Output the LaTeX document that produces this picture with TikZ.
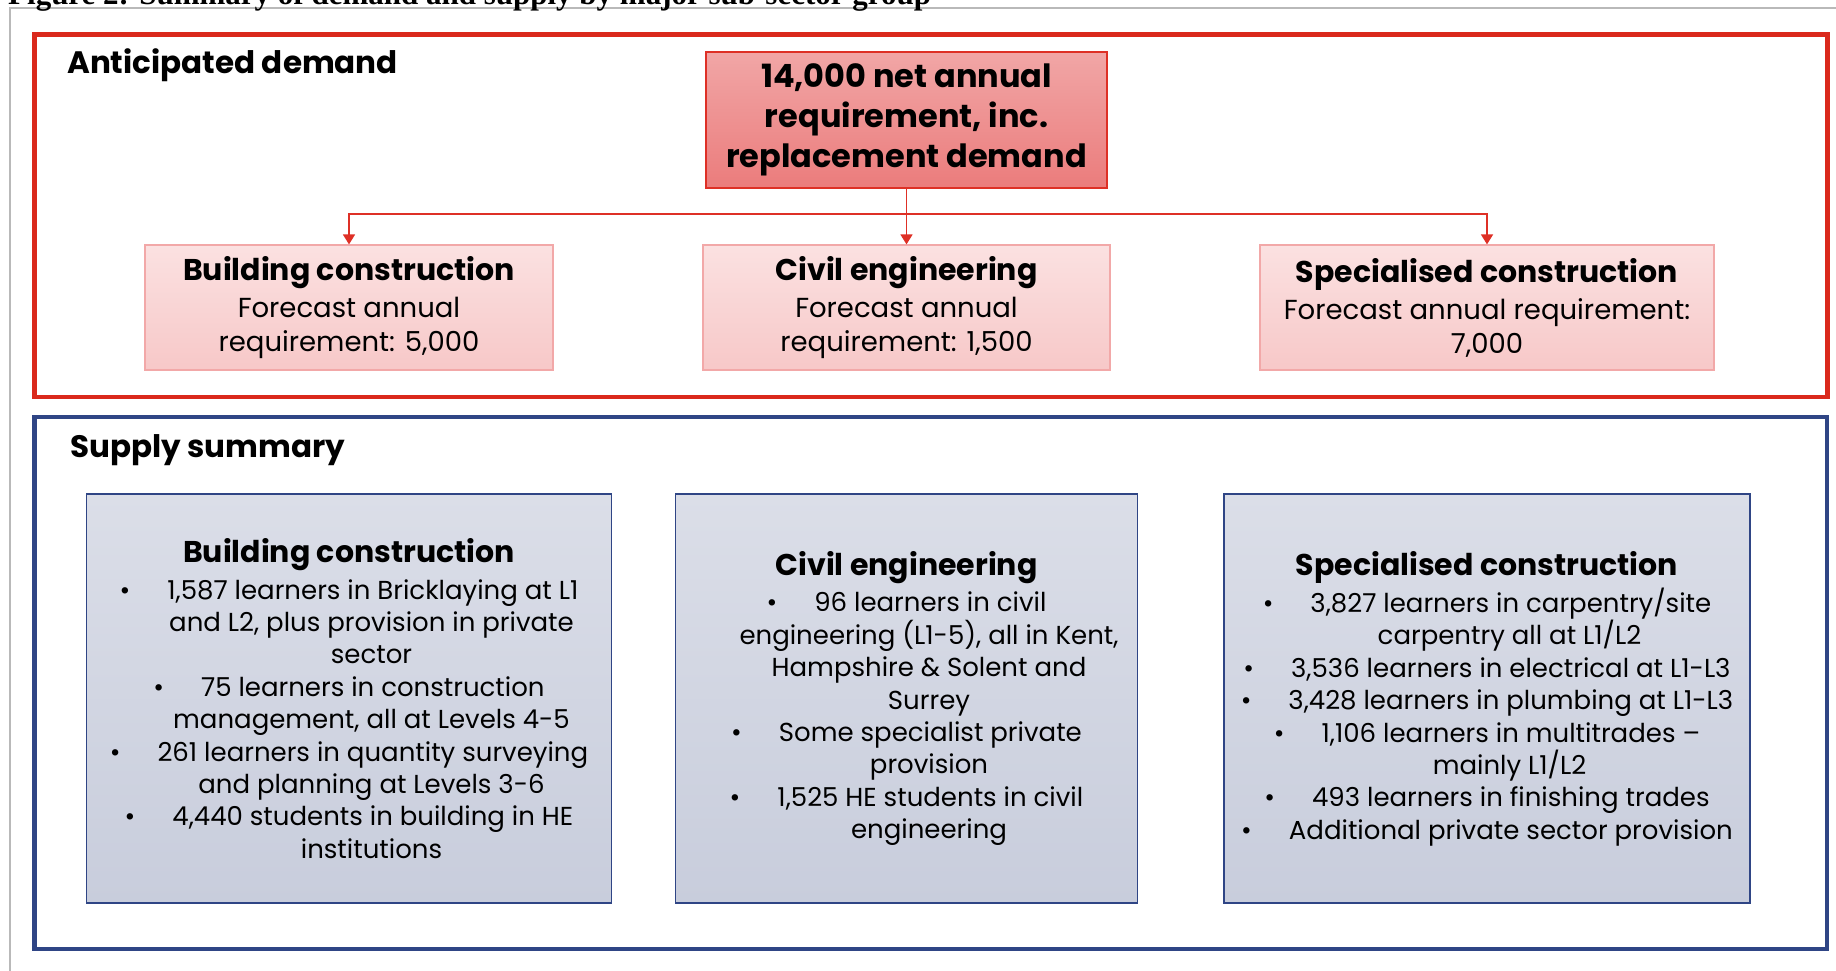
\documentclass[tikz,border=0pt]{standalone}
\usepackage{fontspec}
\setmainfont{Poppins}
\newfontfamily\capfont{Liberation Serif}
\usetikzlibrary{arrows.meta}

\definecolor{redframe}{RGB}{218,41,28}
\definecolor{redline}{RGB}{222,48,38}
\definecolor{toptop}{RGB}{241,166,166}
\definecolor{topbot}{RGB}{235,124,124}
\definecolor{pinktop}{RGB}{251,225,225}
\definecolor{pinkbot}{RGB}{247,200,200}
\definecolor{pinkline}{RGB}{242,168,168}
\definecolor{blueframe}{RGB}{47,69,133}
\definecolor{greytop}{RGB}{219,222,232}
\definecolor{greybot}{RGB}{200,205,220}
\definecolor{pageline}{RGB}{185,185,185}

\newcommand{\bul}{\textbullet\hspace{37pt}}
\newcommand{\cont}{\hspace*{45pt}}
\newcommand{\boxtitle}[1]{{\fontsize{30}{34}\selectfont\bfseries #1}}

\tikzstyle{total} = [rectangle, minimum width=401pt, minimum height=136pt, align=center, draw=redline, line width=1.5pt, top color=toptop, bottom color=topbot, font=\fontsize{32}{40}\selectfont\bfseries]
\tikzstyle{demand} = [rectangle, minimum height=125pt, align=center, draw=pinkline, line width=1.2pt, top color=pinktop, bottom color=pinkbot, font=\fontsize{27.5}{34}\selectfont]
\tikzstyle{supply} = [rectangle, minimum height=409pt, align=center, draw=blueframe, line width=1.2pt, top color=greytop, bottom color=greybot, font=\fontsize{26}{32.4}\selectfont]
\tikzstyle{frame} = [line width=4.5pt]
\tikzstyle{heading} = [anchor=base west, inner sep=0pt, font=\fontsize{31}{34}\selectfont\bfseries]
\tikzstyle{arrow} = [line width=1.5pt, draw=redline, -{Triangle[width=12pt,length=10pt]}]

\begin{document}
\begin{tikzpicture}[x=1pt, y=-1pt]
\clip (0,0) rectangle (1836,970);

% page rule and caption, cut at the top
\draw [pageline, line width=1.5pt] (10,980) |- (1846,8);
\node (caption) [anchor=base west, inner sep=0pt, font=\capfont\fontsize{31}{34}\selectfont\bfseries] at (8,4) {Figure 2: Summary of demand and supply by major sub-sector group};

% anticipated demand
\draw [frame, redframe] (34.5,34.5) rectangle (1827.5,397);
\node (demandhead) [heading] at (67,73) {Anticipated demand};

\node (total) [total] at (906.5,120) {14,000 net annual\\requirement, inc.\\replacement demand};
\node (pcivil) [demand, below of=total, node distance=187.5pt, minimum width=407pt] {\boxtitle{Civil engineering}\\[3pt]Forecast annual\\requirement: 1,500};
\node (pbuild) [demand, left of=pcivil, node distance=557.5pt, minimum width=408pt] {\boxtitle{Building construction}\\[3pt]Forecast annual\\requirement: 5,000};
\node (pspec) [demand, right of=pcivil, node distance=580.5pt, minimum width=454pt] {\boxtitle{Specialised construction}\\[3pt]Forecast annual requirement:\\7,000};

\coordinate (split) at (906.5,214);
\draw [arrow] (total) -- (pcivil);
\draw [arrow] (split) -| (pbuild.north);
\draw [arrow] (split) -| (pspec.north);

% supply summary
\draw [frame, blueframe] (34.5,417) rectangle (1827,949);
\node (supplyhead) [heading] at (70,457) {Supply summary};

\node (sbuild) [supply, below of=pbuild, node distance=391pt, minimum width=525pt] {\boxtitle{Building construction}\\[4pt]
\bul 1,587 learners in Bricklaying at L1\\
\cont and L2, plus provision in private\\
\cont sector\\
\bul 75 learners in construction\\
\cont management, all at Levels 4-5\\
\bul 261 learners in quantity surveying\\
\cont and planning at Levels 3-6\\
\bul 4,440 students in building in HE\\
\cont institutions};
\node (scivil) [supply, below of=pcivil, node distance=391pt, minimum width=462pt] {\boxtitle{Civil engineering}\\[4pt]
\bul 96 learners in civil\\
\cont engineering (L1-5), all in Kent,\\
\cont Hampshire \& Solent and\\
\cont Surrey\\
\bul Some specialist private\\
\cont provision\\
\bul 1,525 HE students in civil\\
\cont engineering};
\node (sspec) [supply, below of=pspec, node distance=391pt, minimum width=526pt] {\boxtitle{Specialised construction}\\[4pt]
\bul 3,827 learners in carpentry/site\\
\cont carpentry all at L1/L2\\
\bul 3,536 learners in electrical at L1-L3\\
\bul 3,428 learners in plumbing at L1-L3\\
\bul 1,106 learners in multitrades –\\
\cont mainly L1/L2\\
\bul 493 learners in finishing trades\\
\bul Additional private sector provision};
\end{tikzpicture}
\end{document}
